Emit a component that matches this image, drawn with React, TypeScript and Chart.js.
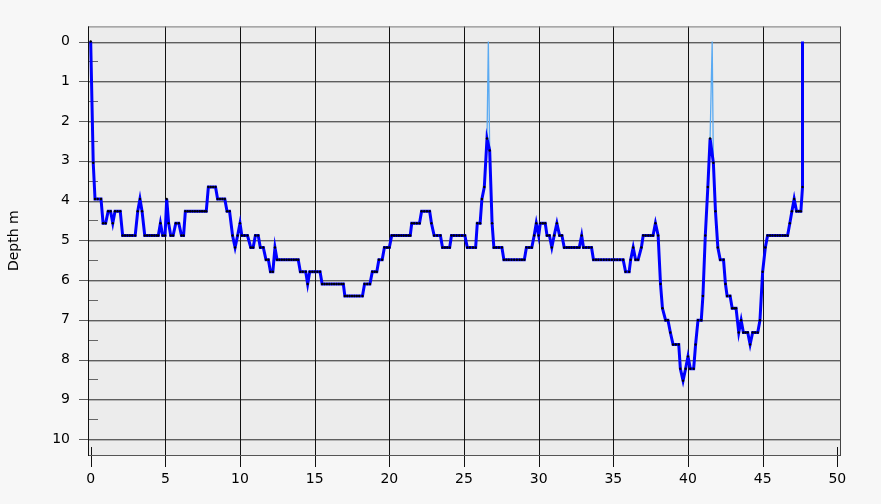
import React, { useEffect, useRef } from "react";
import { Chart, registerables } from "chart.js";

Chart.register(...registerables);

const distance = [
  0, 0.17, 0.29, 0.47, 0.69, 0.83, 1.0, 1.17, 1.33, 1.48, 1.63, 1.8, 1.98,
  2.14, 2.3, 2.46, 2.62, 2.78, 2.98, 3.15, 3.3, 3.44,
  3.62, 3.78, 3.94, 4.1, 4.26, 4.42, 4.53, 4.67, 4.82, 4.98,
  5.09, 5.22, 5.36, 5.52, 5.7, 5.9, 6.08, 6.22, 6.34, 6.5, 6.66, 6.82, 6.98, 7.14, 7.3, 7.46, 7.62, 7.74,
  7.88, 8.04, 8.2, 8.36, 8.5, 8.66, 8.82, 8.98, 9.13, 9.3,
  9.5, 9.67, 9.84, 10.0, 10.12, 10.3, 10.5, 10.72, 10.88, 11.03, 11.22, 11.36, 11.56,
  11.74, 11.9, 12.04, 12.2, 12.34,
  12.48, 12.64, 12.8, 12.96, 13.12, 13.28, 13.44, 13.6, 13.76, 13.9,
  14.04, 14.2, 14.4, 14.53, 14.67, 14.84, 15.0, 15.18, 15.36,
  15.5, 15.66, 15.82, 15.98, 16.14, 16.3, 16.46, 16.62, 16.78, 16.92,
  17.02, 17.18, 17.34, 17.5, 17.66, 17.82, 17.98, 18.2,
  18.34, 18.52, 18.7, 18.86, 19.02, 19.16, 19.3, 19.52, 19.67, 19.84, 20.0,
  20.16, 20.32, 20.48, 20.64, 20.8, 20.96, 21.12, 21.28, 21.4,
  21.5, 21.66, 21.84, 22.02, 22.16, 22.34, 22.52, 22.7, 22.82,
  23.0, 23.2, 23.42, 23.56, 23.72, 23.88, 24.04,
  24.16, 24.32, 24.5, 24.68, 24.86, 25.06, 25.22, 25.4, 25.6, 25.78,
  25.89, 26.08, 26.2, 26.36, 26.54, 26.72, 26.88, 27.0, 27.16, 27.34, 27.54,
  27.67, 27.84, 28.0, 28.18, 28.36, 28.54, 28.72, 28.88, 29.04,
  29.18, 29.36, 29.54, 29.7, 29.84, 30.0, 30.11, 30.28, 30.44,
  30.56, 30.72, 30.88, 31.04, 31.22, 31.4, 31.56,
  31.71, 31.88, 32.04, 32.2, 32.38, 32.56, 32.72, 32.88, 33.0, 33.18, 33.36, 33.54,
  33.67, 33.84, 34.0, 34.18, 34.36, 34.54, 34.72, 34.9, 35.08, 35.26, 35.44, 35.66,
  35.82, 36.06, 36.16, 36.33, 36.49, 36.66,
  36.88, 37.0, 37.16, 37.34, 37.5, 37.66, 37.82, 38.0,
  38.16, 38.29, 38.5, 38.66, 38.82, 39.0, 39.18, 39.38,
  39.49, 39.67, 39.84, 40.0, 40.16, 40.38, 40.51, 40.67, 40.89,
  41.0, 41.16, 41.33, 41.48, 41.7, 41.84, 42.0, 42.16, 42.38,
  42.51, 42.62, 42.82, 42.96, 43.1, 43.22,
  43.4, 43.56, 43.71, 43.86, 44.0, 44.16, 44.33, 44.5, 44.67,
  44.82, 45.0, 45.18, 45.33, 45.5, 45.66, 45.84, 46.0, 46.16, 46.34, 46.5, 46.67,
  46.82, 46.96, 47.11, 47.27, 47.42, 47.56, 47.67, 47.67,
];

const depth = [
  0, 3.05, 3.96, 3.96, 3.96, 4.57, 4.57, 4.27, 4.27, 4.57, 4.27, 4.27, 4.27,
  4.88, 4.88, 4.88, 4.88, 4.88, 4.88, 4.27, 3.96, 4.27,
  4.88, 4.88, 4.88, 4.88, 4.88, 4.88, 4.88, 4.57, 4.88, 4.88,
  3.96, 4.57, 4.88, 4.88, 4.57, 4.57, 4.88, 4.88, 4.27, 4.27, 4.27, 4.27, 4.27, 4.27, 4.27, 4.27, 4.27, 4.27,
  3.66, 3.66, 3.66, 3.66, 3.96, 3.96, 3.96, 3.96, 4.27, 4.27,
  4.88, 5.18, 4.88, 4.57, 4.88, 4.88, 4.88, 5.18, 5.18, 4.88, 4.88, 5.18, 5.18,
  5.49, 5.49, 5.79, 5.79, 5.18,
  5.49, 5.49, 5.49, 5.49, 5.49, 5.49, 5.49, 5.49, 5.49, 5.49,
  5.79, 5.79, 5.79, 6.1, 5.79, 5.79, 5.79, 5.79, 5.79,
  6.1, 6.1, 6.1, 6.1, 6.1, 6.1, 6.1, 6.1, 6.1, 6.1,
  6.4, 6.4, 6.4, 6.4, 6.4, 6.4, 6.4, 6.4,
  6.1, 6.1, 6.1, 5.79, 5.79, 5.79, 5.49, 5.49, 5.18, 5.18, 5.18,
  4.88, 4.88, 4.88, 4.88, 4.88, 4.88, 4.88, 4.88, 4.88,
  4.57, 4.57, 4.57, 4.57, 4.27, 4.27, 4.27, 4.27, 4.57,
  4.88, 4.88, 4.88, 5.18, 5.18, 5.18, 5.18,
  4.88, 4.88, 4.88, 4.88, 4.88, 4.88, 5.18, 5.18, 5.18, 5.18,
  4.57, 4.57, 3.96, 3.66, 2.44, 2.74, 4.57, 5.18, 5.18, 5.18, 5.18,
  5.49, 5.49, 5.49, 5.49, 5.49, 5.49, 5.49, 5.49, 5.49,
  5.18, 5.18, 5.18, 4.88, 4.57, 4.88, 4.57, 4.57, 4.57,
  4.88, 4.88, 5.18, 4.88, 4.57, 4.88, 4.88,
  5.18, 5.18, 5.18, 5.18, 5.18, 5.18, 5.18, 4.88, 5.18, 5.18, 5.18, 5.18,
  5.49, 5.49, 5.49, 5.49, 5.49, 5.49, 5.49, 5.49, 5.49, 5.49, 5.49, 5.49,
  5.79, 5.79, 5.49, 5.18, 5.49, 5.49,
  5.18, 4.88, 4.88, 4.88, 4.88, 4.88, 4.57, 4.88,
  6.1, 6.71, 7.01, 7.01, 7.32, 7.62, 7.62, 7.62,
  8.23, 8.53, 8.23, 7.92, 8.23, 8.23, 7.62, 7.01, 7.01,
  6.4, 4.88, 3.66, 2.44, 3.05, 4.27, 5.18, 5.49, 5.49,
  6.1, 6.4, 6.4, 6.71, 6.71, 6.71,
  7.32, 7.01, 7.32, 7.32, 7.32, 7.62, 7.32, 7.32, 7.32,
  7.01, 5.79, 5.18, 4.88, 4.88, 4.88, 4.88, 4.88, 4.88, 4.88, 4.88, 4.88,
  4.57, 4.27, 3.96, 4.27, 4.27, 4.27, 3.66, 0,
];

const spikeDistance = [26.54, 26.63, 26.72, 41.48, 41.62, 41.7];
const spikeDepth = [2.44, 0, 2.74, 2.44, 0, 3.05];
const spikeBreak = [false, false, false, true, false, false];

const xTicks = [0, 5, 10, 15, 20, 25, 30, 35, 40, 45, 50];
const yTicks = [0, 1, 2, 3, 4, 5, 6, 7, 8, 9, 10];
const yMinorTicks = [0.5, 1.5, 2.5, 3.5, 4.5, 5.5, 6.5, 7.5, 8.5, 9.5];
const yTitle = "Depth m";

const FONT = "'DejaVu Sans', Verdana, sans-serif";

const framePlugin = {
  id: "frame",
  beforeDatasetsDraw(chart: any) {
    const { ctx, chartArea: a, scales } = chart;
    const xs = scales.x;
    const ys = scales.y;
    ctx.save();
    ctx.fillStyle = "#ececec";
    ctx.fillRect(a.left, a.top, a.right - a.left, a.bottom - a.top);
    yTicks.forEach((v) => {
      const py = Math.round(ys.getPixelForValue(v));
      ctx.fillStyle = "#5e5e5e";
      ctx.fillRect(a.left - 9, py, a.right - a.left + 9, 1);
      ctx.fillStyle = "#b4b4b4";
      ctx.fillRect(a.left, py + 1, a.right - a.left, 1);
    });
    ctx.fillStyle = "#666";
    yMinorTicks.forEach((v) => {
      const py = Math.round(ys.getPixelForValue(v));
      ctx.fillRect(a.left, py, 10, 1);
    });
    xTicks.forEach((v) => {
      const px = Math.round(xs.getPixelForValue(v));
      ctx.fillStyle = "#111";
      if (v === xTicks[0] || v === xTicks[xTicks.length - 1]) {
        ctx.fillRect(px, a.bottom - 8, 1, 20);
      } else {
        ctx.fillRect(px, a.top, 1, a.bottom - a.top + 12);
      }
    });
    ctx.fillStyle = "#7a7a7a";
    ctx.fillRect(a.left, a.top, a.right - a.left, 1);
    ctx.fillStyle = "#555";
    ctx.fillRect(a.left, a.bottom, a.right - a.left + 1, 1);
    ctx.fillStyle = "#444";
    ctx.fillRect(a.right, a.top, 1, a.bottom - a.top + 1);
    ctx.fillStyle = "#111";
    ctx.fillRect(a.left, a.top, 1, a.bottom - a.top + 1);
    ctx.restore();
  },
};

export default function App() {
  const ref = useRef<HTMLCanvasElement | null>(null);
  useEffect(() => {
    document.body.style.margin = "0";
    document.body.style.background = "#f7f7f7";
    const canvas = ref.current;
    if (!canvas) return;
    const mainData = distance.map((x, i) => ({ x, y: depth[i] }));
    const spikeData: any[] = [];
    spikeDistance.forEach((x, i) => {
      if (spikeBreak[i]) spikeData.push({ x: (x + spikeDistance[i - 1]) / 2, y: null });
      spikeData.push({ x, y: spikeDepth[i] });
    });
    const lastIdx = mainData.length - 1;
    const chart = new Chart(canvas, {
      type: "line",
      data: {
        datasets: [
          {
            data: mainData,
            borderColor: "#0000ff",
            borderWidth: 3,
            pointRadius: (c: any) => (c.dataIndex === lastIdx ? 0 : 1.2),
            pointBackgroundColor: "#000",
            pointBorderWidth: 0,
            pointStyle: "circle",
            tension: 0,
            order: 1,
          },
          {
            data: spikeData,
            borderColor: "#5aaaf2",
            borderWidth: 1.3,
            pointRadius: 0,
            tension: 0,
            spanGaps: false,
            order: 2,
          },
        ],
      },
      plugins: [framePlugin],
      options: {
        animation: false,
        responsive: false,
        events: [],
        layout: { padding: { left: 0, top: 23, right: 41, bottom: 0 } },
        plugins: { legend: { display: false }, tooltip: { enabled: false } },
        scales: {
          x: {
            type: "linear",
            min: -0.18,
            max: 50.18,
            grid: { display: false, drawTicks: false },
            border: { display: false },
            afterBuildTicks: (s: any) => {
              s.ticks = xTicks.map((v) => ({ value: v }));
            },
            afterFit: (s: any) => {
              s.height = 49;
            },
            ticks: {
              autoSkip: false,
              maxRotation: 0,
              padding: 16,
              color: "#000",
              font: { family: FONT, size: 14 },
            },
          },
          y: {
            type: "linear",
            reverse: true,
            min: -0.38,
            max: 10.4,
            grid: { display: false, drawTicks: false },
            border: { display: false },
            afterBuildTicks: (s: any) => {
              s.ticks = yTicks.map((v) => ({ value: v }));
            },
            afterFit: (s: any) => {
              s.width = 88;
            },
            ticks: {
              autoSkip: false,
              padding: 18,
              color: "#000",
              font: { family: FONT, size: 14 },
            },
            title: {
              display: true,
              text: yTitle,
              color: "#000",
              font: { family: FONT, size: 14 },
              padding: { top: 6, bottom: 0 },
            },
          },
        },
      },
    });
    return () => chart.destroy();
  }, []);
  return (
    <div style={{ position: "fixed", left: 0, top: 0, width: 881, height: 504, background: "#f7f7f7" }}>
      <canvas ref={ref} width={881} height={504} style={{ display: "block" }} />
    </div>
  );
}
